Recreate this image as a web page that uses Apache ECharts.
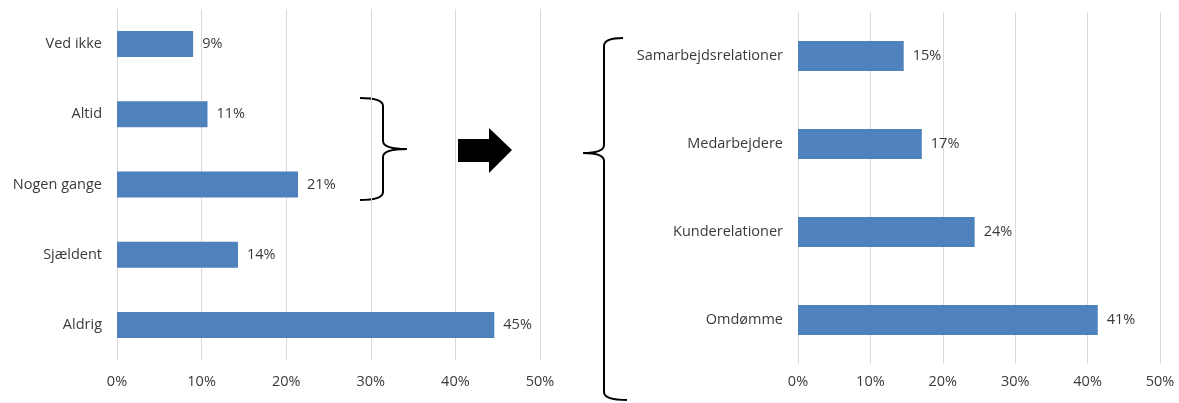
<!DOCTYPE html>
<html>
<head>
<meta charset="utf-8">
<script src="https://cdn.jsdelivr.net/npm/echarts@6/dist/echarts.min.js"></script>
<style>
html,body{margin:0;padding:0;background:#fff;}
#c{width:1179px;height:403px;}
</style>
</head>
<body>
<div id="c"></div>
<script>
// Left chart data
const leftCategories = ['Ved ikke', 'Altid', 'Nogen gange', 'Sjældent', 'Aldrig'];
const leftValues = [9.0, 10.7, 21.4, 14.3, 44.6];
// Right chart data
const rightCategories = ['Samarbejdsrelationer', 'Medarbejdere', 'Kunderelationer', 'Omdømme'];
const rightValues = [14.6, 17.1, 24.4, 41.4];
// Axis ticks
const axisMin = 0, axisMax = 50, axisStep = 10;

const FONT = 'Open Sans';
const FS = 14.5;
const TXT = '#3a3a3a';
const BAR = '#4F81BD';
const GRID = '#D9D9D9';

function xAx(gi, margin) {
  return {
    type: 'value', gridIndex: gi, min: axisMin, max: axisMax, interval: axisStep,
    axisLine: {show: false}, axisTick: {show: false},
    splitLine: {show: true, lineStyle: {color: GRID, width: 1}},
    axisLabel: {formatter: v => v + '%', color: TXT, fontFamily: FONT, fontSize: FS, margin: margin}
  };
}
function yAx(gi, cats) {
  return {
    type: 'category', gridIndex: gi, data: cats, inverse: true,
    axisLine: {show: false}, axisTick: {show: false},
    axisLabel: {color: TXT, fontFamily: FONT, fontSize: FS, margin: 15}
  };
}
function bar(xi, vals, w) {
  return {
    type: 'bar', xAxisIndex: xi, yAxisIndex: xi, data: vals, barWidth: w,
    itemStyle: {color: BAR}, silent: true,
    label: {show: true, position: 'right', distance: 9, color: TXT, fontFamily: FONT, fontSize: FS,
      formatter: p => Math.round(p.value) + '%'}
  };
}

const LS = {stroke: '#000', lineWidth: 2, fill: null};
function curve(x1, y1, cx, cy, x2, y2) {
  return {type: 'bezierCurve', shape: {x1: x1, y1: y1, cpx1: cx, cpy1: cy, x2: x2, y2: y2}, style: LS};
}
function seg(x1, y1, x2, y2) {
  return {type: 'line', shape: {x1: x1, y1: y1, x2: x2, y2: y2}, style: LS};
}
// Decorative brace shape: arms at top/bottom, spine, pointed tip in the middle
function brace(xArmTop, xArmBot, xSpine, xTip, yTop, yMid, yBot) {
  return [
    curve(xArmTop, yTop, xSpine, yTop, xSpine, yTop + 8),
    seg(xSpine, yTop + 8, xSpine, yMid - 8),
    curve(xSpine, yMid - 8, xSpine, yMid, xTip, yMid),
    curve(xTip, yMid, xSpine, yMid, xSpine, yMid + 8),
    seg(xSpine, yMid + 8, xSpine, yBot - 8),
    curve(xSpine, yBot - 8, xSpine, yBot, xArmBot, yBot)
  ];
}

const chart = echarts.init(document.getElementById('c'), null, {renderer: 'canvas'});
chart.setOption({
  animation: false,
  backgroundColor: '#fff',
  grid: [
    {left: 117, top: 9, width: 423, height: 351},
    {left: 798, top: 12, width: 362, height: 352}
  ],
  xAxis: [xAx(0, 14), xAx(1, 10)],
  yAxis: [yAx(0, leftCategories), yAx(1, rightCategories)],
  series: [bar(0, leftValues, 26), bar(1, rightValues, 30)],
  graphic: [].concat(
    brace(360, 360, 383, 407, 98, 149, 200),
    [{type: 'polygon', shape: {points: [[458,139],[489,139],[489,128],[512,150],[489,173],[489,162],[458,162]]},
      style: {fill: '#000'}}],
    brace(623, 627, 604, 583, 38, 153, 400)
  )
});
</script>
</body>
</html>
